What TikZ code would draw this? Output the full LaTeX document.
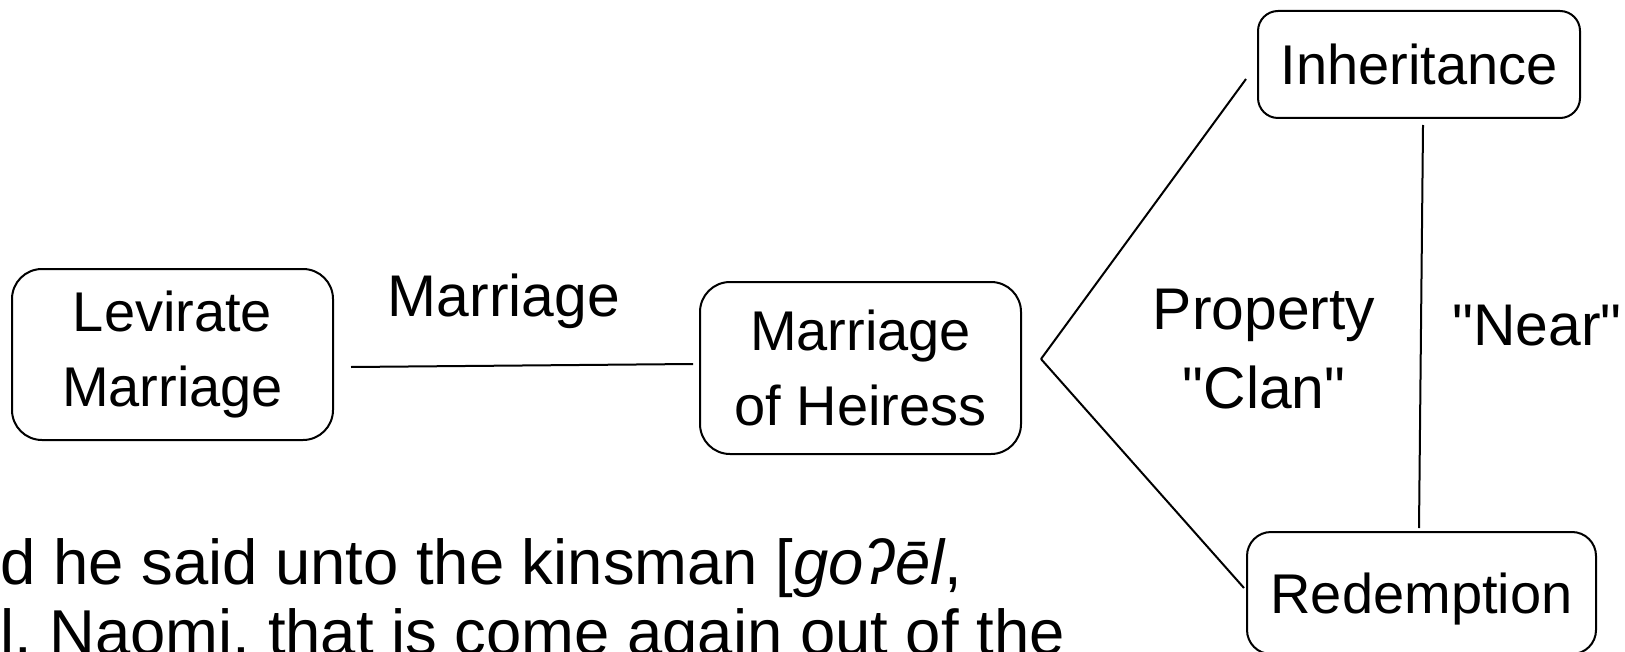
\documentclass[tikz,border=0pt]{standalone}
\usepackage{fontspec}
\setmainfont{Liberation Sans}[Ligatures=TeXOff]
\frenchspacing
\begin{document}
\begin{tikzpicture}[x=0.5pt,y=-0.5pt,
  box/.style={draw, line width=1pt, rounded corners=15pt, inner sep=0pt, align=center, font=\fontsize{28}{37.5}\selectfont},
  onebox/.style={box, text height=20pt, text depth=0pt},
  lbl/.style={inner sep=0pt, align=center, font=\fontsize{29.4}{39.5}\selectfont},
  para/.style={inner sep=0pt, align=left, font=\fontsize{31.7}{35}\selectfont},
  conn/.style={line width=1pt}]
\useasboundingbox (0,0) rectangle (1625,652);
\node[box, minimum width=160.5pt, minimum height=85.5pt] (lev) at (172.5,354.5) {Levirate\\Marriage};
\node[box, minimum width=160.5pt, minimum height=86pt] (hei) at (860.5,368) {Marriage\\of Heiress};
\node[onebox, rounded corners=10pt, minimum width=161pt, minimum height=53.5pt] (inh) at (1419,64.5) {Inheritance};
\node[onebox, rounded corners=12pt, minimum width=174.5pt, minimum height=61pt] (red) at (1421.5,593) {Redemption};
\node[lbl, anchor=base] (lmar) at (504,316) {Marriage};
\node[lbl] (lprop) at (1264,349) {Property\\"Clan"};
\node[lbl, anchor=base] (lnear) at (1537,345) {"Near"};
\node[para, anchor=base west] (txt) at (0,654) {d he said unto the kinsman [\textit{goʔēl},\\l. Naomi, that is come again out of the};
\coordinate (apex) at ([shift={(19,-9)}]hei.east);
\draw[conn] ([shift={(17,12.5)}]lev.east) -- ([shift={(-6,-4)}]hei.west);
\draw[conn] (apex) -- ([shift={(-11,14.5)}]inh.west);
\draw[conn] (apex) -- ([shift={(-2,-5)}]red.west);
\draw[conn] ([shift={(4,6)}]inh.south) -- ([shift={(-2.5,-3)}]red.north);
\end{tikzpicture}
\end{document}
